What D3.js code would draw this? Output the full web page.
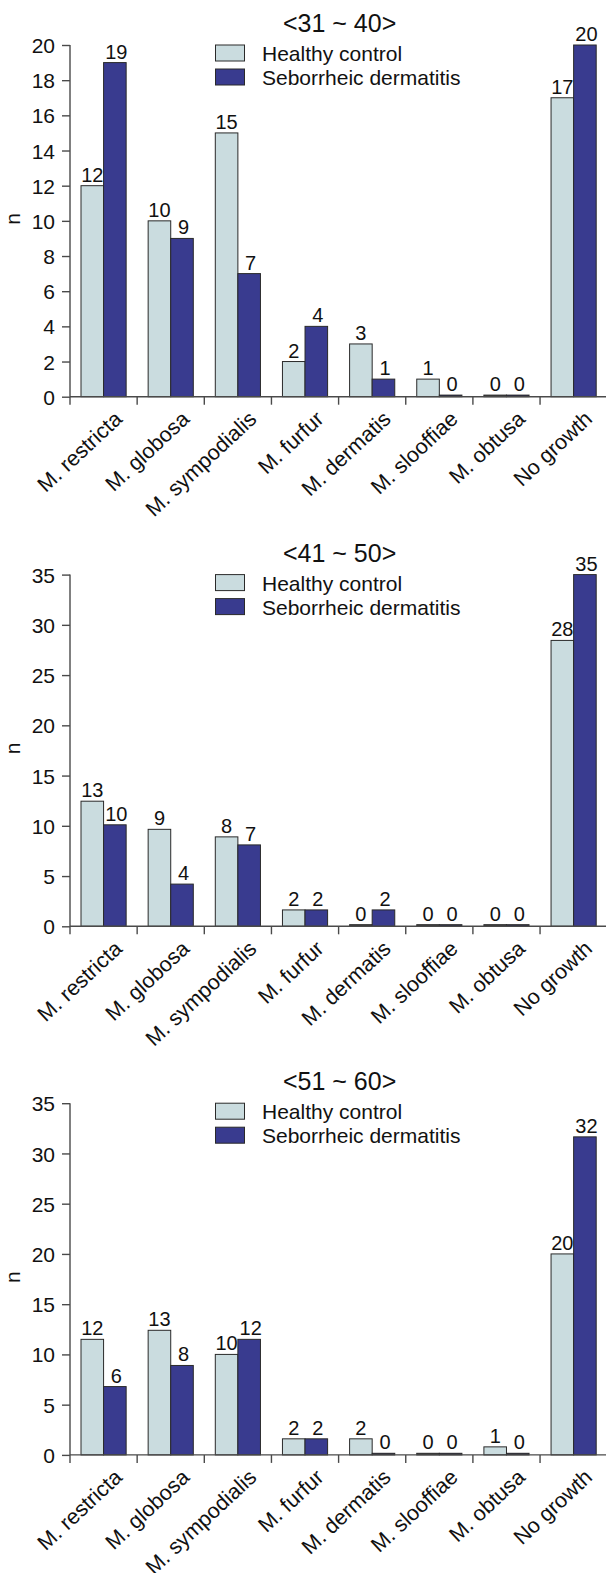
<!DOCTYPE html>
<html><head><meta charset="utf-8">
<script src="https://cdn.jsdelivr.net/npm/d3@7"></script>
<style>
html,body{margin:0;padding:0;background:#fff;}
svg{display:block;}
text{font-family:"Liberation Sans",Arial,sans-serif;fill:#111;}
</style></head>
<body>
<svg id="chart" width="606" height="1573"></svg>
<script>
const categories = ["M. restricta","M. globosa","M. sympodialis","M. furfur","M. dermatis","M. slooffiae","M. obtusa","No growth"];
const seriesNames = ["Healthy control","Seborrheic dermatitis"];
const seriesColors = ["#cadcdf","#393b8f"];
const panelTitles = ["<31 ~ 40>","<41 ~ 50>","<51 ~ 60>"];
const yMaxes = [20,35,35];
const yTickSteps = [2,5,5];

// panel 1
const hc1 = [12,10,15,2,3,1,0,17];
const hc1Labels = [12,10,15,2,3,1,0,17];
const sd1 = [19,9,7,4,1,0,0,20];
const sd1Labels = [19,9,7,4,1,0,0,20];
// panel 2 (bar heights as drawn, labels as printed)
const hc2 = [12.45,9.65,8.9,1.63,0,0,0,28.45];
const hc2Labels = [13,9,8,2,0,0,0,28];
const sd2 = [10.1,4.2,8.1,1.63,1.63,0,0,35];
const sd2Labels = [10,4,7,2,2,0,0,35];
// panel 3
const hc3 = [11.5,12.4,10,1.6,1.6,0,0.8,20];
const hc3Labels = [12,13,10,2,2,0,1,20];
const sd3 = [6.8,8.9,11.5,1.6,0,0,0,31.65];
const sd3Labels = [6,8,12,2,0,0,0,32];

const panels = [
  {hc:hc1, hcL:hc1Labels, sd:sd1, sdL:sd1Labels},
  {hc:hc2, hcL:hc2Labels, sd:sd2, sdL:sd2Labels},
  {hc:hc3, hcL:hc3Labels, sd:sd3, sdL:sd3Labels}
];

const svg = d3.select("#chart");
const axisColor = "#4a4a4a";
const plotLeft = 70, plotRight = 607.2, plotH = 351.7;
const panelTops = [45, 574.6, 1103.2];

panels.forEach((p, pi) => {
  const top = panelTops[pi];
  const g = svg.append("g");
  const x = d3.scaleBand().domain(categories).range([plotLeft, plotRight]).paddingInner(0).paddingOuter(0);
  const inner = d3.scaleBand().domain([0,1]).range([11, x.bandwidth()-11]).padding(0);
  const y = d3.scaleLinear().domain([0, yMaxes[pi]]).range([top + plotH, top]);

  // title
  g.append("text").attr("x", (plotLeft+plotRight)/2 + 1).attr("y", top - 13)
    .attr("text-anchor","middle").style("font-size","25px").text(panelTitles[pi]);

  // bars
  const rows = categories.map((c,i)=>({c, i, vals:[p.hc[i], p.sd[i]], labs:[p.hcL[i], p.sdL[i]]}));
  rows.forEach(r => {
    r.vals.forEach((v, si) => {
      const bx = x(r.c) + inner(si);
      const by = y(v);
      const h = Math.max(y(0) - by, 1.6);
      g.append("rect").attr("x", bx).attr("y", y(0) - h)
        .attr("width", inner.bandwidth()).attr("height", h)
        .attr("fill", v === 0 ? (si===0 ? "#3a3a3a" : "#1e1f4a") : seriesColors[si])
        .attr("stroke", "#2a2a2a").attr("stroke-width", 1);
      g.append("text").attr("x", bx + inner.bandwidth()/2 + (si===1?1.5:0)).attr("y", y(0) - h - 4)
        .attr("text-anchor","middle").style("font-size","20px").text(r.labs[si]);
    });
  });

  // y axis
  const yAxis = d3.axisLeft(y).tickValues(d3.range(0, yMaxes[pi]+0.001, yTickSteps[pi])).tickSize(8).tickPadding(7);
  const ya = g.append("g").attr("transform", `translate(${plotLeft},0)`).call(yAxis);
  ya.select(".domain").attr("stroke", axisColor).attr("stroke-width",1.4).attr("d", `M0,${y(yMaxes[pi])}V${y(0)}`);
  ya.selectAll(".tick line").attr("stroke", axisColor).attr("stroke-width",1.4);
  ya.selectAll(".tick text").style("font-size","21px").style("font-family","Liberation Sans, Arial, sans-serif").attr("fill","#111").attr("dy","0.36em");

  // x axis: line + ticks at category boundaries
  const bounds = categories.map(c => x(c));
  g.append("line").attr("x1", plotLeft).attr("x2", plotRight).attr("y1", y(0)).attr("y2", y(0))
    .attr("stroke", axisColor).attr("stroke-width",1.4);
  g.selectAll(".xb").data(bounds).enter().append("line")
    .attr("x1", d=>d).attr("x2", d=>d).attr("y1", y(0)).attr("y2", y(0)+8)
    .attr("stroke", axisColor).attr("stroke-width",1.4);

  // category labels
  categories.forEach((c,i) => {
    const cx = x(c) + x.bandwidth()/2 + 20;
    const cy = y(0) + 24;
    g.append("text").attr("transform", `translate(${cx},${cy}) rotate(-43)`)
      .attr("text-anchor","end").style("font-size","21.5px").text(c);
  });

  // y label
  g.append("text").attr("transform", `translate(20,${top + plotH/2 - 2}) rotate(-90)`)
    .attr("text-anchor","middle").style("font-size","21px").text("n");

  // legend
  seriesNames.forEach((s, si) => {
    g.append("rect").attr("x", 215.5).attr("y", top + si*24).attr("width", 29).attr("height", 16)
      .attr("fill", seriesColors[si]).attr("stroke", "#2a2a2a").attr("stroke-width",1);
    g.append("text").attr("x", 262).attr("y", top + si*24 + 16)
      .style("font-size","21px").text(s);
  });
});
</script>
</body></html>
